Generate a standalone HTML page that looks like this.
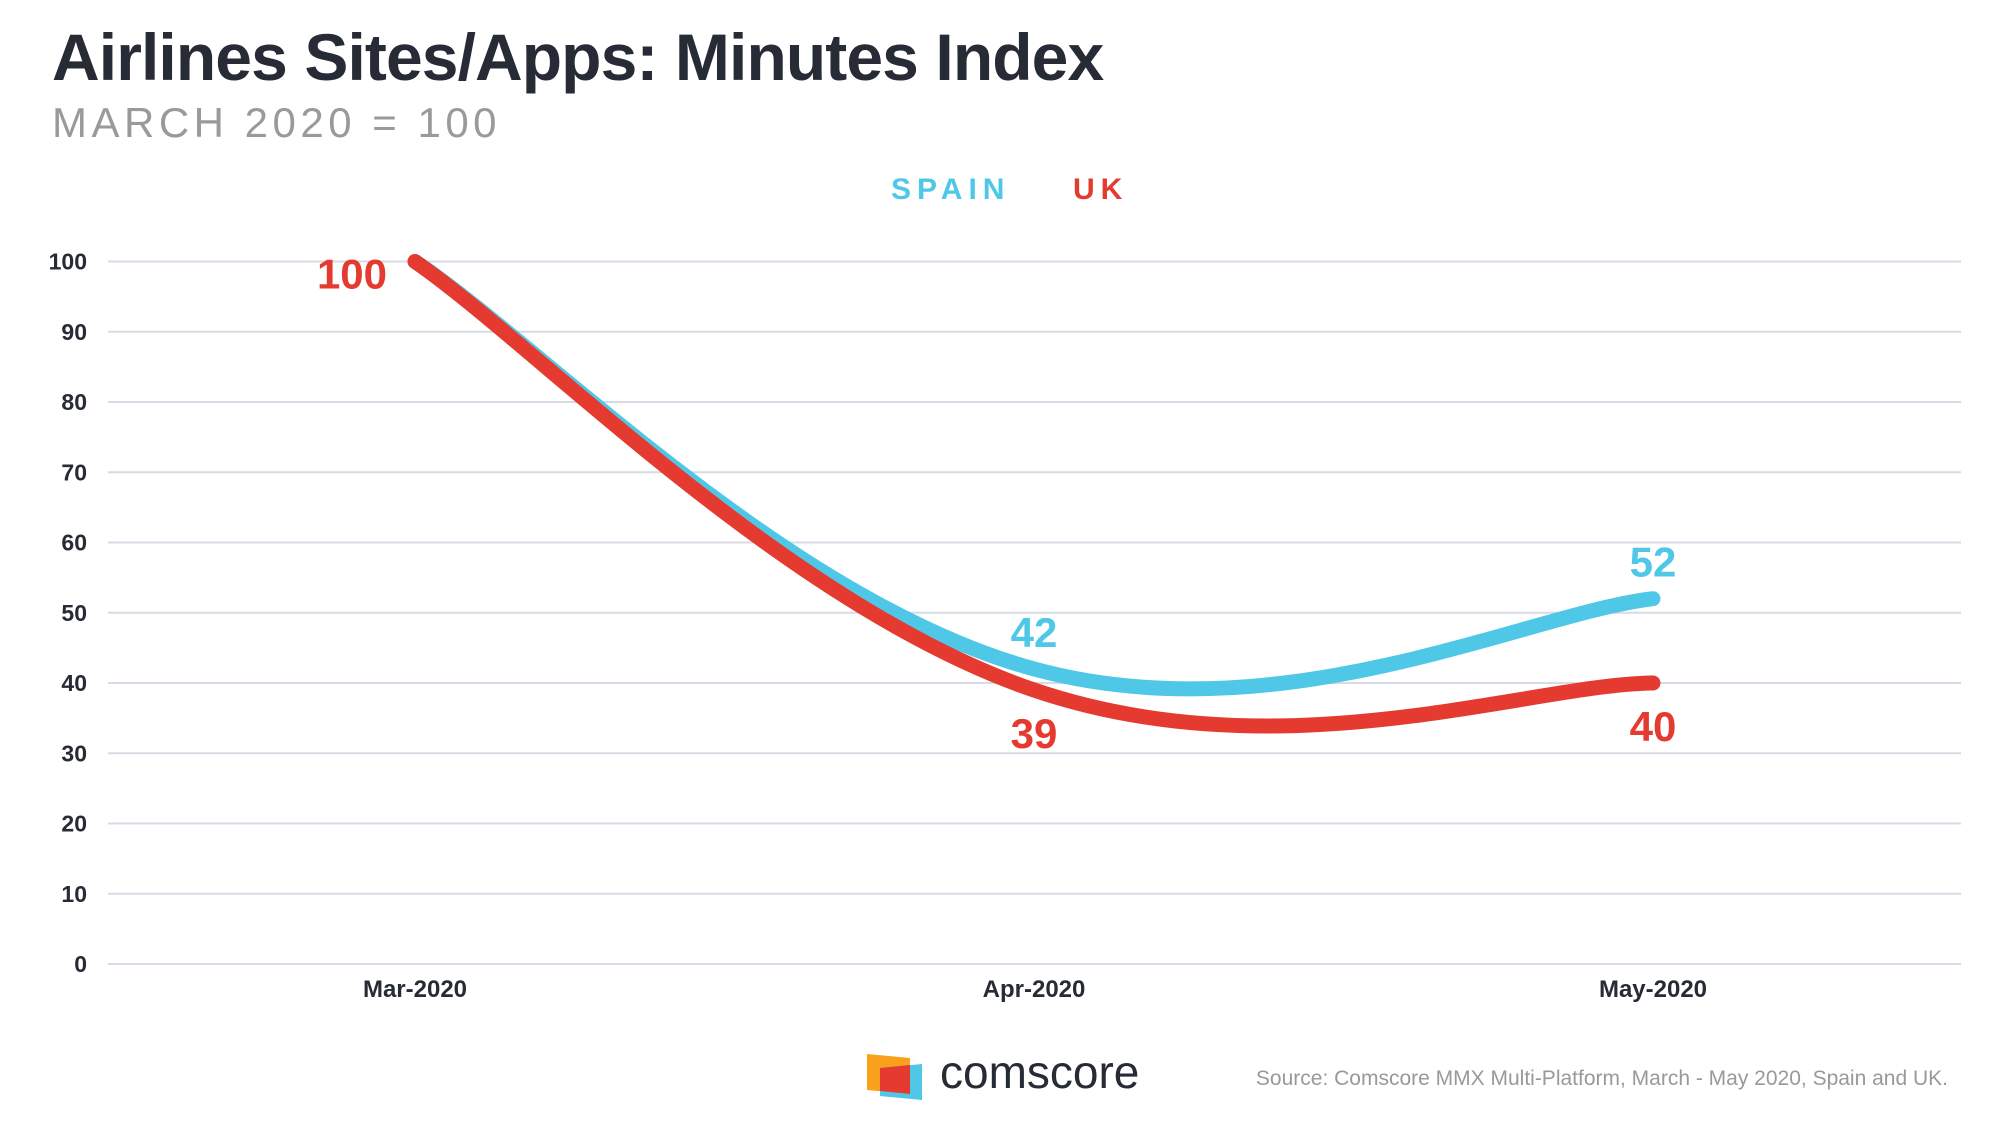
<!DOCTYPE html>
<html><head><meta charset="utf-8"><style>
body{margin:0;background:#fff;}
svg{display:block;font-family:"Liberation Sans",sans-serif;}
</style></head><body>
<svg id="chart" width="2000" height="1125" viewBox="0 0 2000 1125">
<text x="52" y="80" font-size="66" font-weight="bold" fill="#262b35" letter-spacing="-0.9">Airlines Sites/Apps: Minutes Index</text>
<text x="52" y="137" font-size="42" fill="#9a9a9a" letter-spacing="4.5">MARCH 2020 = 100</text>
<text x="891" y="199" font-size="30" font-weight="bold" fill="#4fc8e8" letter-spacing="6">SPAIN</text>
<text x="1073" y="199" font-size="30" font-weight="bold" fill="#e53a30" letter-spacing="6">UK</text>
<g id="grid"></g><g id="lines"></g><g id="labels"></g>
<g>
<polygon points="867,1054 910,1058 910,1094 867,1090" fill="#f9a11b"/>
<polygon points="880,1068 922,1064 922,1100 880,1096" fill="#4fc8e8"/>
<polygon points="880,1068 910,1065 910,1094 880,1091" fill="#e53a30"/>
<text x="940" y="1088" font-size="46" fill="#262b35">comscore</text>
</g>
<text x="1948" y="1085" font-size="21" fill="#999" text-anchor="end">Source: Comscore MMX Multi-Platform, March - May 2020, Spain and UK.</text>
</svg>
<script>
const categories=["Mar-2020","Apr-2020","May-2020"];
const spainValues=[100,42,52];
const ukValues=[100,39,40];
const yTicks=[0,10,20,30,40,50,60,70,80,90,100];
const NS="http://www.w3.org/2000/svg";
function y(v){return 964-(v/100)*(964-261.5);}
function x(i){return 415+i*619;}
function mk(tag,attrs,parent,txt){const e=document.createElementNS(NS,tag);for(const k in attrs)e.setAttribute(k,attrs[k]);if(txt!==undefined)e.textContent=txt;document.getElementById(parent).appendChild(e);return e;}
yTicks.forEach(t=>{
 const l=mk('line',{x1:108,x2:1961,y1:y(t),y2:y(t),stroke:'#d8dbe6','stroke-width':2},'grid');
 
 
 const tx=mk('text',{x:87,y:y(t)+8,'text-anchor':'end','font-size':23,'font-weight':'bold',fill:'#262b35'},'grid',t);
 
 
});
categories.forEach((c,i)=>{
 const tx=mk('text',{x:x(i),y:997,'text-anchor':'middle','font-size':24,'font-weight':'bold',fill:'#262b35'},'grid',c);
 
 
});
function path(vals){
 const p=vals.map((v,i)=>[x(i),y(v)]);
 let d='M'+p[0][0]+','+p[0][1];
 for(let i=0;i<p.length-1;i++){
  const p0=p[Math.max(i-1,0)],p1=p[i],p2=p[i+1],p3=p[Math.min(i+2,p.length-1)];
  const t=1/5;
  d+=' C'+(p1[0]+(p2[0]-p0[0])*t)+','+(p1[1]+(p2[1]-p0[1])*t)+' '+(p2[0]-(p3[0]-p1[0])*t)+','+(p2[1]-(p3[1]-p1[1])*t)+' '+p2[0]+','+p2[1];
 }
 return d;
}
const s=mk('path',{d:path(spainValues),fill:'none',stroke:'#4fc8e8','stroke-width':15,'stroke-linecap':'round'},'lines');


const u=mk('path',{d:path(ukValues),fill:'none',stroke:'#e53a30','stroke-width':15,'stroke-linecap':'round'},'lines');


spainValues.forEach((v,i)=>{
 if(i===0)return;
 const t=mk('text',{x:x(i),y:y(v)-22,'text-anchor':'middle','font-size':42,'font-weight':'bold',fill:'#4fc8e8'},'labels',v);
 
 
});
ukValues.forEach((v,i)=>{
 const px=i===0?x(i)-63:x(i), py=i===0?y(v)+27:y(v)+58;
 const t=mk('text',{x:px,y:py,'text-anchor':'middle','font-size':42,'font-weight':'bold',fill:'#e53a30'},'labels',v);
 
 
});
</script>
</body></html>
